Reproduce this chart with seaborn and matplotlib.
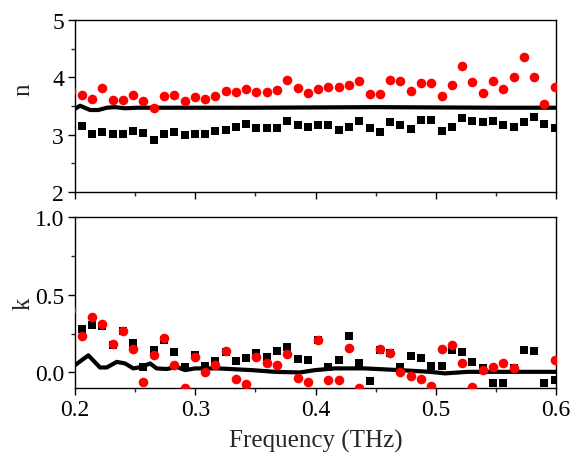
import numpy as np
import pandas as pd
import matplotlib
matplotlib.use("Agg")
import matplotlib.pyplot as plt
from matplotlib.ticker import MultipleLocator
import seaborn as sns

# ---------------- data ----------------
freq = [0.1970, 0.2056, 0.2141, 0.2227, 0.2312, 0.2398, 0.2483, 0.2569, 0.2654, 0.2740,
        0.2825, 0.2911, 0.2996, 0.3082, 0.3167, 0.3253, 0.3338, 0.3424, 0.3509, 0.3595,
        0.3680, 0.3766, 0.3851, 0.3937, 0.4022, 0.4108, 0.4193, 0.4279, 0.4364, 0.4450,
        0.4535, 0.4621, 0.4706, 0.4792, 0.4877, 0.4963, 0.5048, 0.5134, 0.5219, 0.5305,
        0.5390, 0.5476, 0.5561, 0.5647, 0.5732, 0.5818, 0.5903, 0.5989]

n_square = [np.nan, 3.15, 3.02, 3.04, 3.01, 3.01, 3.06, 3.03, 2.90, 3.02, 3.05, 2.99,
            3.02, 3.02, 3.06, 3.09, 3.13, 3.18, 3.12, 3.12, 3.11, 3.23, 3.17, 3.14,
            3.17, 3.17, 3.09, 3.13, 3.23, 3.11, 3.05, 3.22, 3.16, 3.10, 3.26, 3.25,
            3.06, 3.14, 3.29, 3.24, 3.22, 3.23, 3.17, 3.14, 3.22, 3.31, 3.18, 3.11]

n_circle = [3.77, 3.69, 3.63, 3.81, 3.61, 3.61, 3.70, 3.58, 3.47, 3.67, 3.70, 3.59,
            3.66, 3.62, 3.67, 3.77, 3.75, 3.79, 3.75, 3.74, 3.78, 3.95, 3.81, 3.72,
            3.79, 3.84, 3.84, 3.87, 3.94, 3.71, 3.71, 3.96, 3.94, 3.76, 3.90, 3.90,
            3.67, 3.87, 4.20, 3.91, 3.72, 3.93, 3.79, 4.01, 4.36, 4.01, 3.53, 3.83]

k_square = [np.nan, 0.282, 0.308, 0.299, 0.175, 0.265, 0.190, 0.036, 0.143, 0.210, 0.133, 0.036,
            0.115, 0.043, 0.075, 0.133, 0.075, 0.094, 0.122, 0.100, 0.137, 0.165, 0.085, 0.079,
            0.207, 0.036, 0.083, 0.235, 0.058, -0.053, 0.143, 0.122, 0.036, 0.107, 0.090, 0.043,
            0.043, 0.143, 0.133, 0.068, 0.026, -0.070, -0.070, 0.030, 0.147, 0.139, -0.070, -0.050]

k_circle = [0.400, 0.235, 0.357, 0.314, 0.186, 0.265, 0.154, -0.060, 0.115, 0.222, 0.047, -0.098,
            0.100, 0.004, 0.047, 0.137, -0.043, -0.075, 0.100, 0.058, 0.047, 0.120, -0.038, -0.060,
            0.210, -0.049, -0.049, 0.158, -0.100, np.nan, 0.154, 0.122, 0.000, -0.020, -0.043, -0.088,
            0.149, 0.179, 0.064, -0.096, 0.015, 0.032, 0.064, 0.030, np.nan, np.nan, np.nan, 0.079]

n_line_freq = [0.2000, 0.2042, 0.2125, 0.2194, 0.2264, 0.2333, 0.2416, 0.2513, 0.3000,
               0.3500, 0.4000, 0.4500, 0.5000, 0.5500, 0.6000]
n_line = [3.45, 3.505, 3.43, 3.43, 3.47, 3.48, 3.46, 3.47, 3.47,
          3.47, 3.475, 3.48, 3.475, 3.47, 3.47]

k_line_freq = [0.2000, 0.2111, 0.2208, 0.2264, 0.2347, 0.2416, 0.2485, 0.2555, 0.2624,
               0.2679, 0.2763, 0.2846, 0.2915, 0.2998, 0.3189, 0.3472, 0.3663, 0.3871,
               0.3996, 0.4162, 0.4412, 0.4703, 0.4952, 0.5077, 0.5268, 0.6000]
k_line = [0.047, 0.110, 0.032, 0.032, 0.068, 0.058, 0.026, 0.036, 0.058,
          0.026, 0.022, 0.036, 0.015, 0.026, 0.026, 0.015, 0.004, 0.000,
          0.015, 0.026, 0.026, 0.015, 0.004, -0.006, 0.004, 0.004]

x_ticks = [0.2, 0.3, 0.4, 0.5, 0.6]
x_tick_labels = ["0.2", "0.3", "0.4", "0.5", "0.6"]
n_ticks = [2, 3, 4, 5]
k_ticks = [0.0, 0.5, 1.0]
k_tick_labels = ["0.0", "0.5", "1.0"]

# ---------------- style ----------------
sns.set_style("ticks")
plt.rcParams['font.family'] = ['Liberation Serif', 'DejaVu Serif']
plt.rcParams['axes.linewidth'] = 1.0
plt.rcParams['xtick.direction'] = 'out'
plt.rcParams['ytick.direction'] = 'out'

df = pd.DataFrame({"f": freq, "n_sq": n_square, "n_c": n_circle,
                   "k_sq": k_square, "k_c": k_circle})
dn = pd.DataFrame({"f": n_line_freq, "n": n_line})
dk = pd.DataFrame({"f": k_line_freq, "k": k_line})

W, H = 572, 460
fig = plt.figure(figsize=(W / 100, H / 100), dpi=100)
ax1 = fig.add_axes([75 / W, (H - 193) / H, 481 / W, 172 / H])
ax2 = fig.add_axes([75 / W, (H - 389) / H, 481 / W, 171 / H])

sq_size = 32
c_size = 48
tick_fs = 17
label_fs = 18

for ax, ysq, yc, dl, ycol in [(ax1, "n_sq", "n_c", dn, "n"), (ax2, "k_sq", "k_c", dk, "k")]:
    sns.lineplot(data=dl, x="f", y=ycol, ax=ax, color="black", lw=3.0,
                 estimator=None, sort=False, zorder=2)
    sns.scatterplot(data=df, x="f", y=ysq, ax=ax, marker="s", s=sq_size, color="black",
                    linewidth=0, zorder=3)
    sns.scatterplot(data=df, x="f", y=yc, ax=ax, marker="o", s=c_size, color="#ff0000",
                    linewidth=0, zorder=4)
    ax.set_xlim(0.2, 0.6)
    ax.set_xticks(x_ticks)
    ax.xaxis.set_minor_locator(MultipleLocator(0.05))
    for s in ax.spines.values():
        s.set_visible(True)
        s.set_color("black")
        s.set_linewidth(1.0)
    ax.tick_params(which="major", length=5, width=1, labelsize=tick_fs, colors="black", pad=3)
    ax.tick_params(which="minor", length=3, width=1)
    ax.tick_params(top=False, right=False, which="both")

ax1.set_ylim(2, 5)
ax1.set_yticks(n_ticks)
ax1.yaxis.set_minor_locator(MultipleLocator(0.5))
ax1.tick_params(axis="x", labelbottom=False)
ax1.set_xlabel("")
ax1.set_ylabel("n", fontsize=label_fs)
ax1.yaxis.set_label_coords(-0.085, 0.6)

ax2.set_ylim(-0.1, 1.0)
ax2.set_yticks(k_ticks)
ax2.set_yticklabels(k_tick_labels)
ax2.yaxis.set_minor_locator(MultipleLocator(0.25))
ax2.set_xticklabels(x_tick_labels)
ax2.set_xlabel("Frequency (THz)", fontsize=label_fs, labelpad=6)
ax2.set_ylabel("k", fontsize=label_fs)
ax2.yaxis.set_label_coords(-0.085, 0.5)

fig.savefig("out.png", dpi=100)
